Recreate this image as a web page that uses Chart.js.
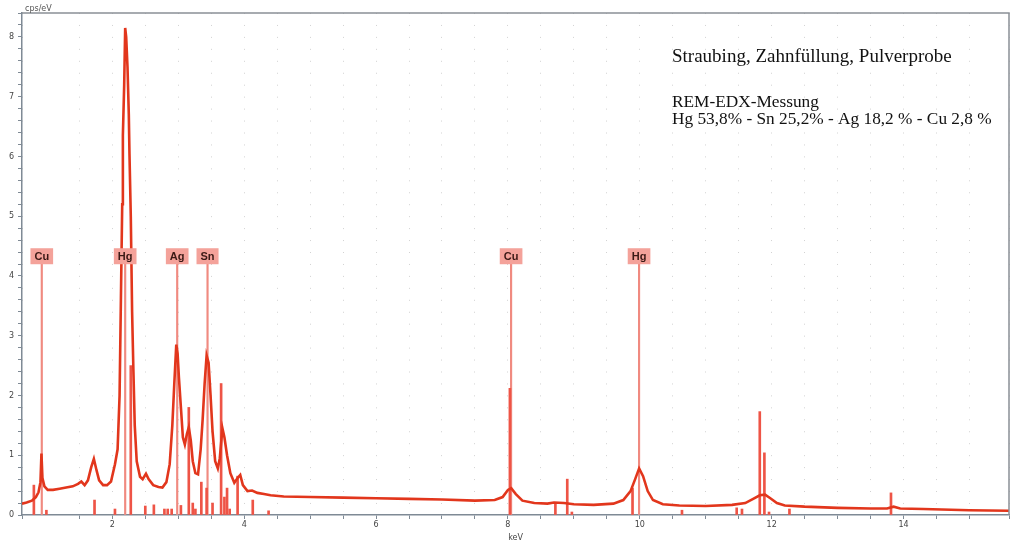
<!DOCTYPE html>
<html>
<head>
<meta charset="utf-8">
<script src="https://cdn.jsdelivr.net/npm/chart.js@4.4.1/dist/chart.umd.min.js"></script>
<style>
    body { margin: 0; background: #ffffff; }
    #wrap { width: 1016px; height: 545px; position: relative; }
</style>
</head>
<body>
<div id="wrap"><canvas id="edxChart"></canvas></div>
<script>
// Spectrum (keV / cps per eV)
const spectrumKeV = [0.63, 0.70, 0.78, 0.84, 0.88, 0.91, 0.925, 0.94, 0.97, 1.02, 1.10, 1.20, 1.30, 1.40, 1.48, 1.53, 1.58, 1.63, 1.68, 1.72, 1.76, 1.80, 1.86, 1.92, 1.98, 2.04, 2.08, 2.11, 2.13, 2.15, 2.16, 2.18, 2.195, 2.21, 2.23, 2.25, 2.26, 2.28, 2.30, 2.32, 2.34, 2.37, 2.42, 2.46, 2.51, 2.55, 2.62, 2.70, 2.76, 2.82, 2.87, 2.91, 2.94, 2.97, 2.99, 3.01, 3.04, 3.07, 3.10, 3.13, 3.16, 3.19, 3.22, 3.26, 3.30, 3.34, 3.37, 3.40, 3.43, 3.46, 3.49, 3.52, 3.56, 3.60, 3.63, 3.67, 3.70, 3.74, 3.79, 3.85, 3.90, 3.94, 3.98, 4.05, 4.12, 4.20, 4.30, 4.40, 4.60, 5.0, 5.5, 6.0, 6.5, 7.0, 7.5, 7.8, 7.92, 8.0, 8.05, 8.12, 8.22, 8.4, 8.6, 8.7, 8.85, 9.0, 9.3, 9.6, 9.75, 9.86, 9.93, 9.99, 10.05, 10.12, 10.2, 10.35, 10.6, 11.0, 11.4, 11.6, 11.72, 11.82, 11.9, 11.98, 12.08, 12.2, 12.5, 13.0, 13.5, 13.75, 13.85, 13.95, 14.3, 15.0, 15.6];
const spectrumCps = [0.19, 0.21, 0.24, 0.30, 0.38, 0.55, 1.03, 0.62, 0.48, 0.42, 0.42, 0.44, 0.46, 0.48, 0.52, 0.56, 0.50, 0.58, 0.80, 0.94, 0.75, 0.58, 0.50, 0.50, 0.56, 0.85, 1.10, 2.0, 3.6, 5.2, 6.35, 7.2, 8.15, 8.0, 7.5, 6.7, 6.05, 5.0, 3.4, 2.4, 1.5, 0.9, 0.64, 0.6, 0.69, 0.6, 0.5, 0.47, 0.46, 0.55, 0.85, 1.5, 2.2, 2.85, 2.7, 2.3, 1.8, 1.3, 1.18, 1.35, 1.47, 1.25, 0.9, 0.7, 0.68, 1.1, 1.6, 2.2, 2.67, 2.55, 2.0, 1.4, 0.9, 0.78, 0.95, 1.45, 1.3, 1.0, 0.7, 0.54, 0.62, 0.67, 0.5, 0.40, 0.41, 0.37, 0.35, 0.33, 0.31, 0.30, 0.29, 0.28, 0.27, 0.26, 0.24, 0.25, 0.30, 0.42, 0.45, 0.35, 0.24, 0.20, 0.19, 0.21, 0.20, 0.18, 0.17, 0.19, 0.25, 0.40, 0.60, 0.78, 0.65, 0.40, 0.25, 0.18, 0.16, 0.15, 0.17, 0.20, 0.27, 0.33, 0.34, 0.28, 0.20, 0.16, 0.14, 0.12, 0.11, 0.11, 0.14, 0.11, 0.10, 0.08, 0.07];

// Reference line bars
const refLineKeV = [0.81, 1.0, 1.73, 2.04, 2.28, 2.50, 2.63, 2.79, 2.84, 2.90, 3.04, 3.16, 3.22, 3.26, 3.35, 3.43, 3.52, 3.65, 3.70, 3.74, 3.78, 3.90, 4.13, 4.37, 8.03, 8.72, 8.90, 8.97, 9.89, 10.64, 11.47, 11.55, 11.82, 11.89, 11.96, 12.27, 13.81];
const refLineCps = [0.5, 0.08, 0.25, 0.1, 2.5, 0.15, 0.17, 0.1, 0.1, 0.1, 0.16, 1.8, 0.2, 0.1, 0.55, 0.45, 0.2, 2.2, 0.3, 0.45, 0.1, 0.65, 0.25, 0.07, 2.12, 0.2, 0.6, 0.05, 0.45, 0.08, 0.12, 0.1, 1.73, 1.04, 0.05, 0.1, 0.37];

// Element markers
const elementNames = ["Cu", "Hg", "Ag", "Sn", "Cu", "Hg"];
const elementKeV = [0.93, 2.195, 2.984, 3.444, 8.048, 9.989];
const markerTop = 4.2;
const labelLevel = 4.33;

// Axis labels
const xTickLabels = [2, 4, 6, 8, 10, 12, 14];
const yTickLabels = [0, 1, 2, 3, 4, 5, 6, 7, 8];

const noteLines = [
    "Straubing, Zahnfüllung, Pulverprobe",
    "REM-EDX-Messung",
    "Hg 53,8% - Sn 25,2% - Ag 18,2 % - Cu 2,8 %"
];

// Frame, element boxes and text notes
const extrasPlugin = {
    id: "extras",
    afterDatasetsDraw(chart) {
        const { ctx, chartArea: a, scales: { x, y } } = chart;
        ctx.save();

        // top and right frame
        ctx.strokeStyle = "#8b9096";
        ctx.lineWidth = 1.5;
        ctx.beginPath();
        ctx.moveTo(a.left, a.top);
        ctx.lineTo(a.right, a.top);
        ctx.lineTo(a.right, a.bottom);
        ctx.stroke();

        // element label boxes
        ctx.font = "bold 11px 'Liberation Sans', Arial, sans-serif";
        ctx.textAlign = "center";
        ctx.textBaseline = "middle";
        elementNames.forEach((name, i) => {
            const px = x.getPixelForValue(elementKeV[i]);
            const py = y.getPixelForValue(labelLevel);
            const w = ctx.measureText(name).width + 8;
            ctx.fillStyle = "#f4a29a";
            ctx.fillRect(px - w / 2, py - 8, w, 16);
            ctx.fillStyle = "#3a1915";
            ctx.fillText(name, px, py + 1);
        });

        // unit label top left
        ctx.font = "8px 'DejaVu Sans', sans-serif";
        ctx.fillStyle = "#555";
        ctx.textAlign = "left";
        ctx.textBaseline = "alphabetic";
        ctx.fillText("cps/eV", a.left + 3, a.top - 2);

        // sample notes
        ctx.fillStyle = "#111";
        ctx.font = "19px 'Liberation Serif', 'Times New Roman', serif";
        ctx.fillText(noteLines[0], 672, 62);
        ctx.font = "17.3px 'Liberation Serif', 'Times New Roman', serif";
        ctx.fillText(noteLines[1], 672, 107);
        ctx.fillText(noteLines[2], 672, 124);

        ctx.restore();
    }
};

const ctx = document.getElementById("edxChart").getContext("2d");

new Chart(ctx, {
    type: "scatter",
    data: {
        datasets: [
            {
                type: "line",
                label: "Spectrum",
                data: spectrumKeV.map((k, i) => ({ x: k, y: spectrumCps[i] })),
                borderColor: "#e2361c",
                borderWidth: 2.6,
                pointRadius: 0,
                tension: 0,
                order: 0
            },
            {
                type: "bar",
                label: "Lines",
                data: refLineKeV.map((k, i) => ({ x: k, y: refLineCps[i] })),
                backgroundColor: "#ee5446",
                barThickness: 2,
                grouped: false,
                order: 1
            },
            {
                type: "bar",
                label: "Markers",
                data: elementKeV.map(k => ({ x: k, y: markerTop })),
                backgroundColor: "#f08a80",
                barThickness: 1.5,
                grouped: false,
                order: 2
            }
        ]
    },
    options: {
        responsive: true,
        maintainAspectRatio: false,
        animation: false,
        layout: { padding: { top: 13, right: 7, left: 0, bottom: 0 } },
        plugins: {
            legend: { display: false },
            tooltip: { enabled: false }
        },
        scales: {
            x: {
                type: "linear",
                min: 0.63,
                max: 15.6,
                offset: false,
                afterFit: scale => { scale.height = 30; },
                ticks: {
                    stepSize: 0.5,
                    autoSkip: false,
                    maxRotation: 0,
                    padding: 1,
                    color: "#444",
                    font: { family: "'DejaVu Sans', sans-serif", size: 8 },
                    callback: v => xTickLabels.includes(v) ? v : ""
                },
                grid: {
                    color: "#d2d2d2",
                    lineWidth: 1,
                    offset: false,
                    tickLength: 4,
                    tickColor: "#7f8a95"
                },
                border: { color: "#7f8a95", width: 1.5, dash: [1, 10.95] },
                title: {
                    display: true,
                    text: "keV",
                    color: "#444",
                    font: { family: "'DejaVu Sans', sans-serif", size: 8 },
                    padding: { top: 0, bottom: 2 }
                }
            },
            y: {
                min: 0,
                max: 8.4,
                afterFit: scale => { scale.width = 22; },
                ticks: {
                    stepSize: 0.2,
                    autoSkip: false,
                    padding: 4,
                    color: "#444",
                    font: { family: "'DejaVu Sans', sans-serif", size: 8 },
                    callback: v => yTickLabels.some(t => Math.abs(t - v) < 1e-6) ? Math.round(v) : ""
                },
                grid: {
                    drawOnChartArea: false,
                    tickLength: 4,
                    tickColor: "#7f8a95"
                },
                border: { color: "#7f8a95", width: 1.5 }
            }
        }
    },
    plugins: [extrasPlugin]
});
</script>
</body>
</html>
